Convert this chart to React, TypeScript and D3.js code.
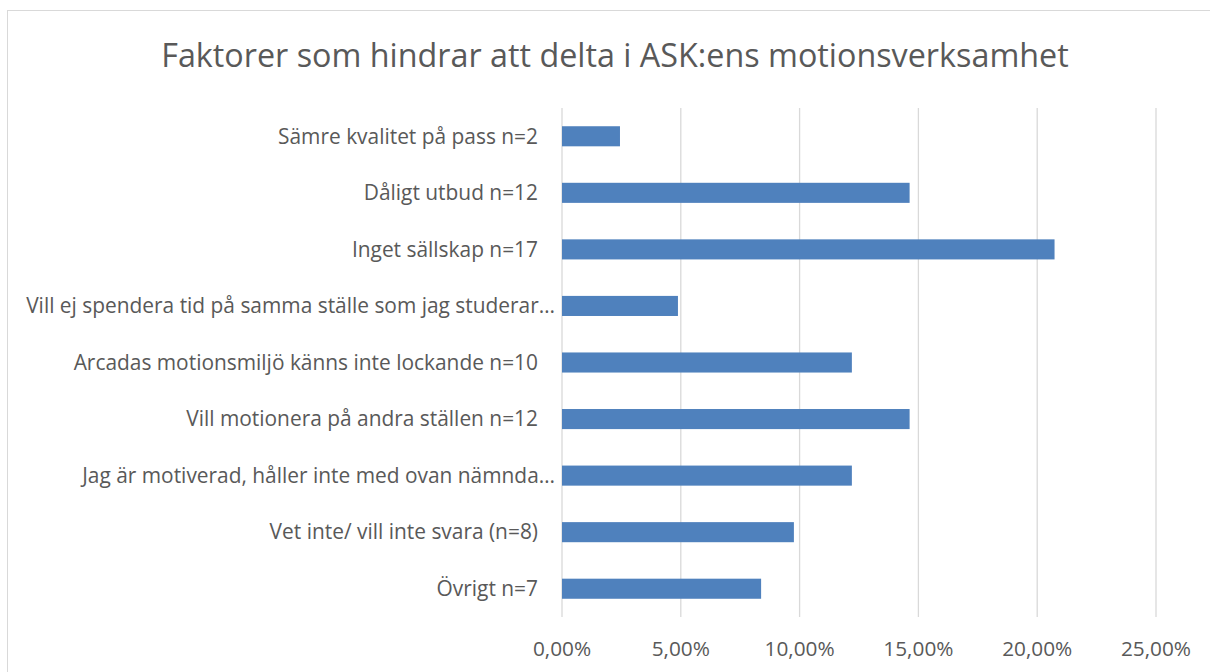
import React from "react";
import * as d3 from "d3";

const categories = [
  "Sämre kvalitet på pass n=2",
  "Dåligt utbud n=12",
  "Inget sällskap n=17",
  "Vill ej spendera tid på samma ställe som jag studerar…",
  "Arcadas motionsmiljö känns inte lockande n=10",
  "Vill motionera på andra ställen n=12",
  "Jag är motiverad, håller inte med ovan nämnda…",
  "Vet inte/ vill inte svara (n=8)",
  "Övrigt n=7",
];
const values = [2.44, 14.63, 20.73, 4.88, 12.2, 14.63, 12.2, 9.76, 8.38];
const ticks = [0, 5, 10, 15, 20, 25];
const title = "Faktorer som hindrar att delta i ASK:ens motionsverksamhet";

const W = 1210;
const H = 672;
const FONT = "'Open Sans', sans-serif";
const TEXT = "#595959";
const GRID = "#d9d9d9";
const BAR = "#4f81bd";

export default function App() {
  const x = d3.scaleLinear().domain([0, 25]).range([562, 1156]);
  const y = d3
    .scaleBand<string>()
    .domain(categories)
    .range([108, 617])
    .paddingInner(0.645)
    .paddingOuter(0.3225);
  const fmt = (v: number) => d3.format(".2f")(v).replace(".", ",") + "%";
  return (
    <svg
      width={W}
      height={H}
      style={{ position: "absolute", left: 0, top: 0, background: "#fff" }}
      fontFamily={FONT}
    >
      <rect x={7.5} y={10.5} width={1210} height={700} fill="#fff" stroke={GRID} />
      <text x={615} y={67} textAnchor="middle" fontSize={32.3} fill={TEXT}>
        {title}
      </text>
      {ticks.map((t) => (
        <g key={t}>
          <line x1={x(t)} x2={x(t)} y1={108} y2={617} stroke={GRID} strokeWidth={1.3} />
          <text x={x(t)} y={656} textAnchor="middle" fontSize={20.8} fill={TEXT}>
            {fmt(t)}
          </text>
        </g>
      ))}
      {categories.map((c, i) => (
        <g key={c}>
          <rect
            x={x(0)}
            y={y(c)!}
            width={x(values[i]) - x(0)}
            height={y.bandwidth()}
            fill={BAR}
          />
          <text
            x={c.endsWith("…") ? 555 : 538}
            y={y(c)! + y.bandwidth() / 2}
            dy="0.35em"
            textAnchor="end"
            fontSize={20.9}
            fill={TEXT}
          >
            {c}
          </text>
        </g>
      ))}
    </svg>
  );
}
